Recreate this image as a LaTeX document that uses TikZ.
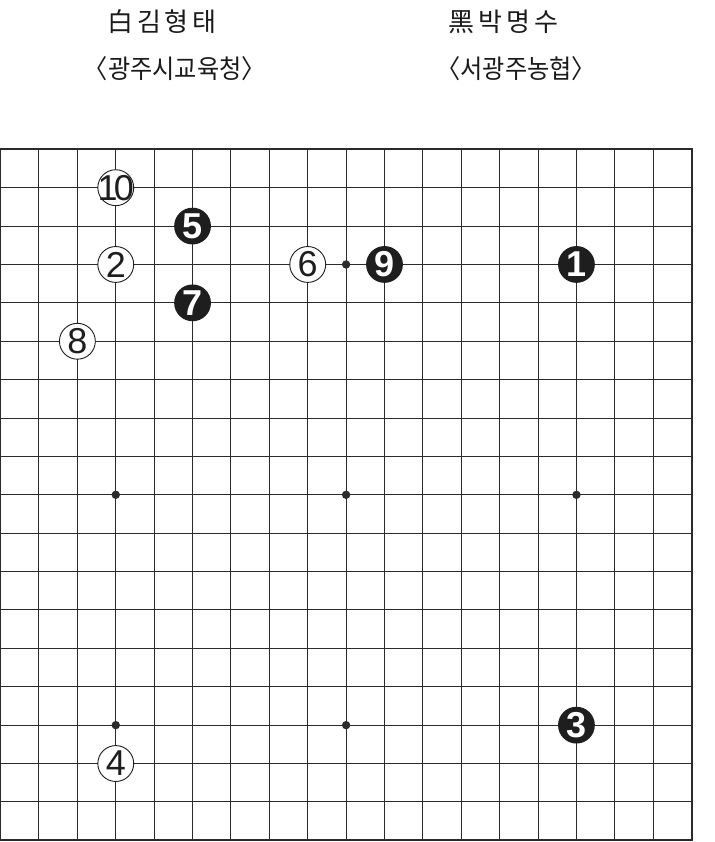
\documentclass[tikz,border=0pt]{standalone}
\usepackage{fontspec}
\setmainfont{Liberation Sans}
\newfontfamily\krwide[LetterSpace=15]{Noto Sans CJK KR}
\newfontfamily\krnarrow[FakeStretch=0.93]{Noto Sans CJK KR}
\usetikzlibrary{positioning}
\definecolor{boardLine}{HTML}{2B2B2B}
\definecolor{stoneDark}{HTML}{1E1E1E}
\definecolor{textDark}{HTML}{1A1A1A}
\newcommand\stonenum[1]{\makebox[0pt]{#1}}

\begin{document}
\begin{tikzpicture}[
    x=38.39pt, y=-38.39pt,
    gridline/.style={boardLine, line width=1pt},
    boardedge/.style={boardLine, line width=1.8pt},
    bstone/.style={circle, fill=stoneDark, minimum size=36.8pt, inner sep=0pt,
                   text=white, font=\fontsize{36}{36}\bfseries},
    wstone/.style={circle, draw=stoneDark, line width=0.9pt, fill=white,
                   minimum size=35.9pt, inner sep=0pt, text=stoneDark,
                   font=\fontsize{36}{36}\selectfont},
    player/.style={anchor=base, text=textDark, font=\krwide\fontsize{26}{30}\selectfont},
    club/.style={anchor=base, text=textDark, font=\krnarrow\fontsize{26}{30}\selectfont}
  ]
    \useasboundingbox (-0.0156,-3.889) rectangle (18.609,18.044);

    % players
    \node[player] (white) at (4.2,-3.066) {白김형태};
    \node[club] (whiteclub) at (4.54,-1.842) {〈광주시교육청〉};
    \node[player] (black) at (13.1,-3.066) {黑박명수};
    \node[club] (blackclub) at (13.43,-1.842) {〈서광주농협〉};

    % board
    \foreach \i in {1,...,17} {
      \draw[gridline] (\i,0) -- (\i,18);
      \draw[gridline] (0,\i) -- (18,\i);
    }
    \draw[boardedge] (0,0) rectangle (18,18);
    \foreach \c in {3,9,15}
      \foreach \r in {3,9,15}
        \fill[boardLine] (\c,\r) circle (4.2pt);

    % moves
    \node[bstone] (m1) at (15,3) {\stonenum{1}};
    \node[wstone] (m2) at (3,3) {\stonenum{2}};
    \node[bstone] (m3) at (15,15) {\stonenum{3}};
    \node[wstone] (m4) at (3,16) {\stonenum{4}};
    \node[bstone] (m5) at (5,2) {\stonenum{5}};
    \node[wstone] (m6) at (8,3) {\stonenum{6}};
    \node[bstone] (m7) at (5,4) {\stonenum{7}};
    \node[wstone] (m8) at (2,5) {\stonenum{8}};
    \node[bstone] (m9) at (10,3) {\stonenum{9}};
    \node[wstone] (m10) at (3,1) {\stonenum{1\kern-4pt0}};
  \end{tikzpicture}
\end{document}
